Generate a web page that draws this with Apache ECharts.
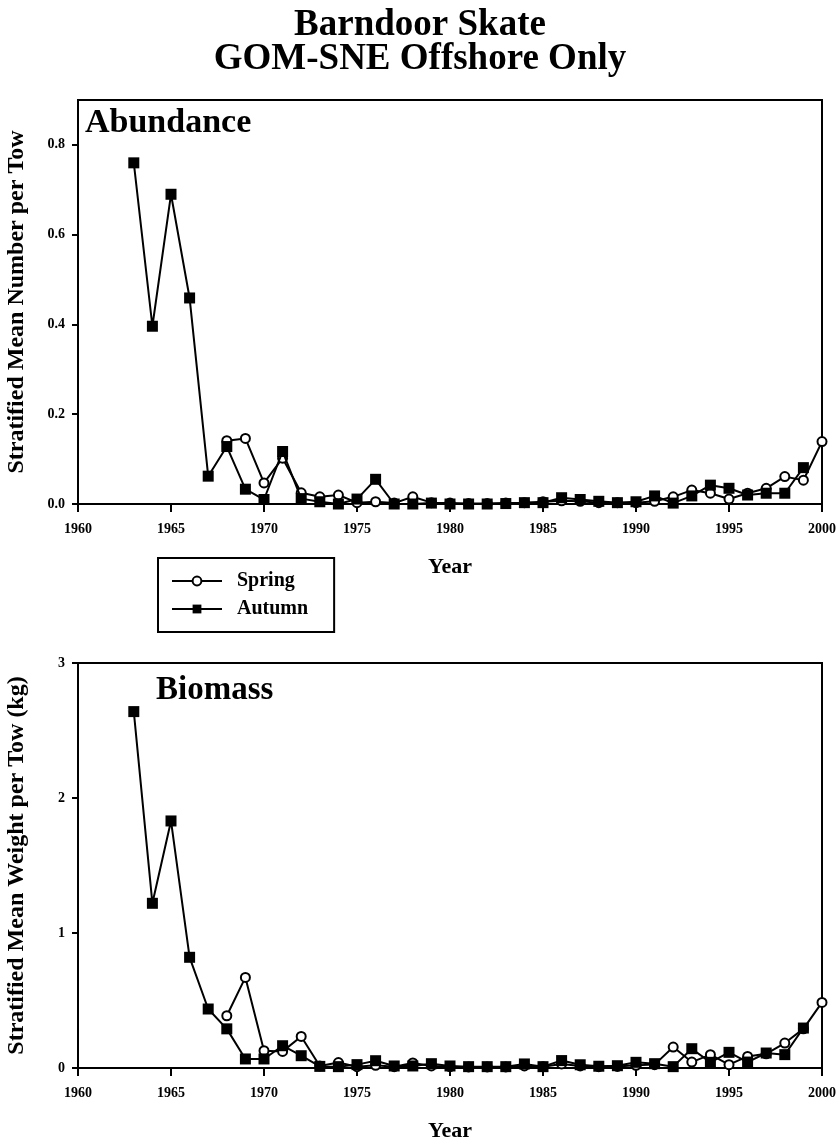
<!DOCTYPE html>
<html><head><meta charset="utf-8">
<script src="https://cdn.jsdelivr.net/npm/echarts@6/dist/echarts.min.js"></script>
<style>html,body{margin:0;padding:0;background:#fff}#c{width:840px;height:1140px}</style>
</head><body><div id="c"></div>
<script>
const autumnYears = [1963,1964,1965,1966,1967,1968,1969,1970,1971,1972,1973,1974,1975,1976,1977,1978,1979,1980,1981,1982,1983,1984,1985,1986,1987,1988,1989,1990,1991,1992,1993,1994,1995,1996,1997,1998,1999];
const springYears = [1968,1969,1970,1971,1972,1973,1974,1975,1976,1977,1978,1979,1980,1981,1982,1983,1984,1985,1986,1987,1988,1989,1990,1991,1992,1993,1994,1995,1996,1997,1998,1999,2000];

const abundanceAutumn = [0.760,0.396,0.690,0.459,0.062,0.128,0.033,0.010,0.117,0.012,0.005,0.000,0.011,0.055,0.000,0.000,0.002,0.000,0.000,0.000,0.001,0.003,0.003,0.014,0.010,0.006,0.003,0.005,0.018,0.002,0.018,0.042,0.035,0.020,0.024,0.024,0.081];
const abundanceSpring = [0.141,0.146,0.047,0.102,0.025,0.016,0.020,0.003,0.005,0.002,0.016,0.003,0.002,0.001,0.001,0.002,0.003,0.005,0.007,0.006,0.003,0.003,0.003,0.006,0.016,0.031,0.024,0.011,0.024,0.035,0.061,0.053,0.139];

const biomassAutumn = [2.64,1.22,1.83,0.82,0.437,0.290,0.067,0.067,0.165,0.091,0.012,0.010,0.025,0.054,0.015,0.015,0.032,0.015,0.010,0.010,0.010,0.030,0.010,0.055,0.024,0.013,0.017,0.042,0.032,0.010,0.143,0.042,0.116,0.044,0.111,0.099,0.296];
const biomassSpring = [0.387,0.671,0.128,0.123,0.234,0.015,0.040,0.010,0.020,0.010,0.037,0.015,0.010,0.008,0.008,0.008,0.015,0.010,0.030,0.015,0.010,0.012,0.020,0.025,0.155,0.044,0.099,0.025,0.086,0.105,0.185,0.290,0.486];

const yearTicks = [1960,1965,1970,1975,1980,1985,1990,1995,2000];
const abundanceTicks = [0,0.2,0.4,0.6,0.8];
const biomassTicks = [0,1,2,3];

const FONT = 'Liberation Serif';
const pairs = (xs, ys) => xs.map((x, i) => [x, ys[i]]);

function xAxisOf(gridIndex) {
  return {
    type: 'value', gridIndex, min: 1960, max: 2000, interval: 5,
    name: 'Year', nameLocation: 'middle', nameGap: 52,
    nameTextStyle: {fontFamily: FONT, fontWeight: 'bold', fontSize: 22, color: '#000'},
    axisLine: {show: true, lineStyle: {color: '#000', width: 2}},
    axisTick: {show: true, inside: false, length: 8, lineStyle: {color: '#000', width: 2}, customValues: yearTicks},
    axisLabel: {fontFamily: FONT, fontWeight: 'bold', fontSize: 14, color: '#000', margin: 18, customValues: yearTicks, formatter: v => String(v)},
    splitLine: {show: false}
  };
}
function yAxisOf(gridIndex, max, interval, ticks, name, fmt) {
  return {
    type: 'value', gridIndex, min: 0, max, interval,
    name, nameLocation: 'middle', nameGap: 49,
    nameTextStyle: {fontFamily: FONT, fontWeight: 'bold', fontSize: 24, color: '#000'},
    axisLine: {show: true, lineStyle: {color: '#000', width: 2}},
    axisTick: {show: true, inside: false, length: 6, lineStyle: {color: '#000', width: 2}, customValues: ticks},
    axisLabel: {fontFamily: FONT, fontWeight: 'bold', fontSize: 14, color: '#000', margin: 13, customValues: ticks, formatter: fmt},
    splitLine: {show: false}
  };
}
function springSeries(xi, data) {
  return {
    name: 'Spring', type: 'line', xAxisIndex: xi, yAxisIndex: xi, data,
    symbol: 'circle', symbolSize: 9,
    itemStyle: {color: '#fff', borderColor: '#000', borderWidth: 2},
    lineStyle: {color: '#000', width: 2}, animation: false, z: 2
  };
}
function autumnSeries(xi, data) {
  return {
    name: 'Autumn', type: 'line', xAxisIndex: xi, yAxisIndex: xi, data,
    symbol: 'rect', symbolSize: 11,
    itemStyle: {color: '#000', borderColor: '#000', borderWidth: 0},
    lineStyle: {color: '#000', width: 2}, animation: false, z: 3
  };
}

const chart = echarts.init(document.getElementById('c'), null, {renderer: 'canvas'});
chart.setOption({
  backgroundColor: '#fff',
  animation: false,
  title: [
    {text: 'Barndoor Skate\nGOM-SNE Offshore Only', left: 420, top: 8, textAlign: 'center', padding: 0,
     textStyle: {fontFamily: FONT, fontWeight: 'bold', fontSize: 37, lineHeight: 34, color: '#000', align: 'center'}},
    {text: 'Abundance', left: 85, top: 106, padding: 0,
     textStyle: {fontFamily: FONT, fontWeight: 'bold', fontSize: 34, lineHeight: 34, color: '#000'}},
    {text: 'Biomass', left: 156, top: 674, padding: 0,
     textStyle: {fontFamily: FONT, fontWeight: 'bold', fontSize: 33, lineHeight: 33, color: '#000'}}
  ],
  legend: {
    left: 158, top: 558, orient: 'vertical',
    data: ['Spring', 'Autumn'],
    itemWidth: 50, itemHeight: 11, itemGap: 8,
    borderColor: '#000', borderWidth: 2, padding: [13, 26, 13, 13],
    textStyle: {fontFamily: FONT, fontWeight: 'bold', fontSize: 20, color: '#000', padding: [0, 0, 0, 10]}
  },
  grid: [
    {left: 78, right: 18, top: 100, height: 404, show: true, borderColor: '#000', borderWidth: 2, containLabel: false, outerBoundsMode: 'none'},
    {left: 78, right: 18, top: 663, height: 405, show: true, borderColor: '#000', borderWidth: 2, containLabel: false, outerBoundsMode: 'none'}
  ],
  xAxis: [xAxisOf(0), xAxisOf(1)],
  yAxis: [
    yAxisOf(0, 0.9, 0.2, abundanceTicks, 'Stratified Mean Number per Tow', v => v.toFixed(1)),
    yAxisOf(1, 3, 1, biomassTicks, 'Stratified Mean Weight per Tow (kg)', v => String(v))
  ],
  series: [
    springSeries(0, pairs(springYears, abundanceSpring)),
    autumnSeries(0, pairs(autumnYears, abundanceAutumn)),
    springSeries(1, pairs(springYears, biomassSpring)),
    autumnSeries(1, pairs(autumnYears, biomassAutumn))
  ]
});
</script></body></html>
